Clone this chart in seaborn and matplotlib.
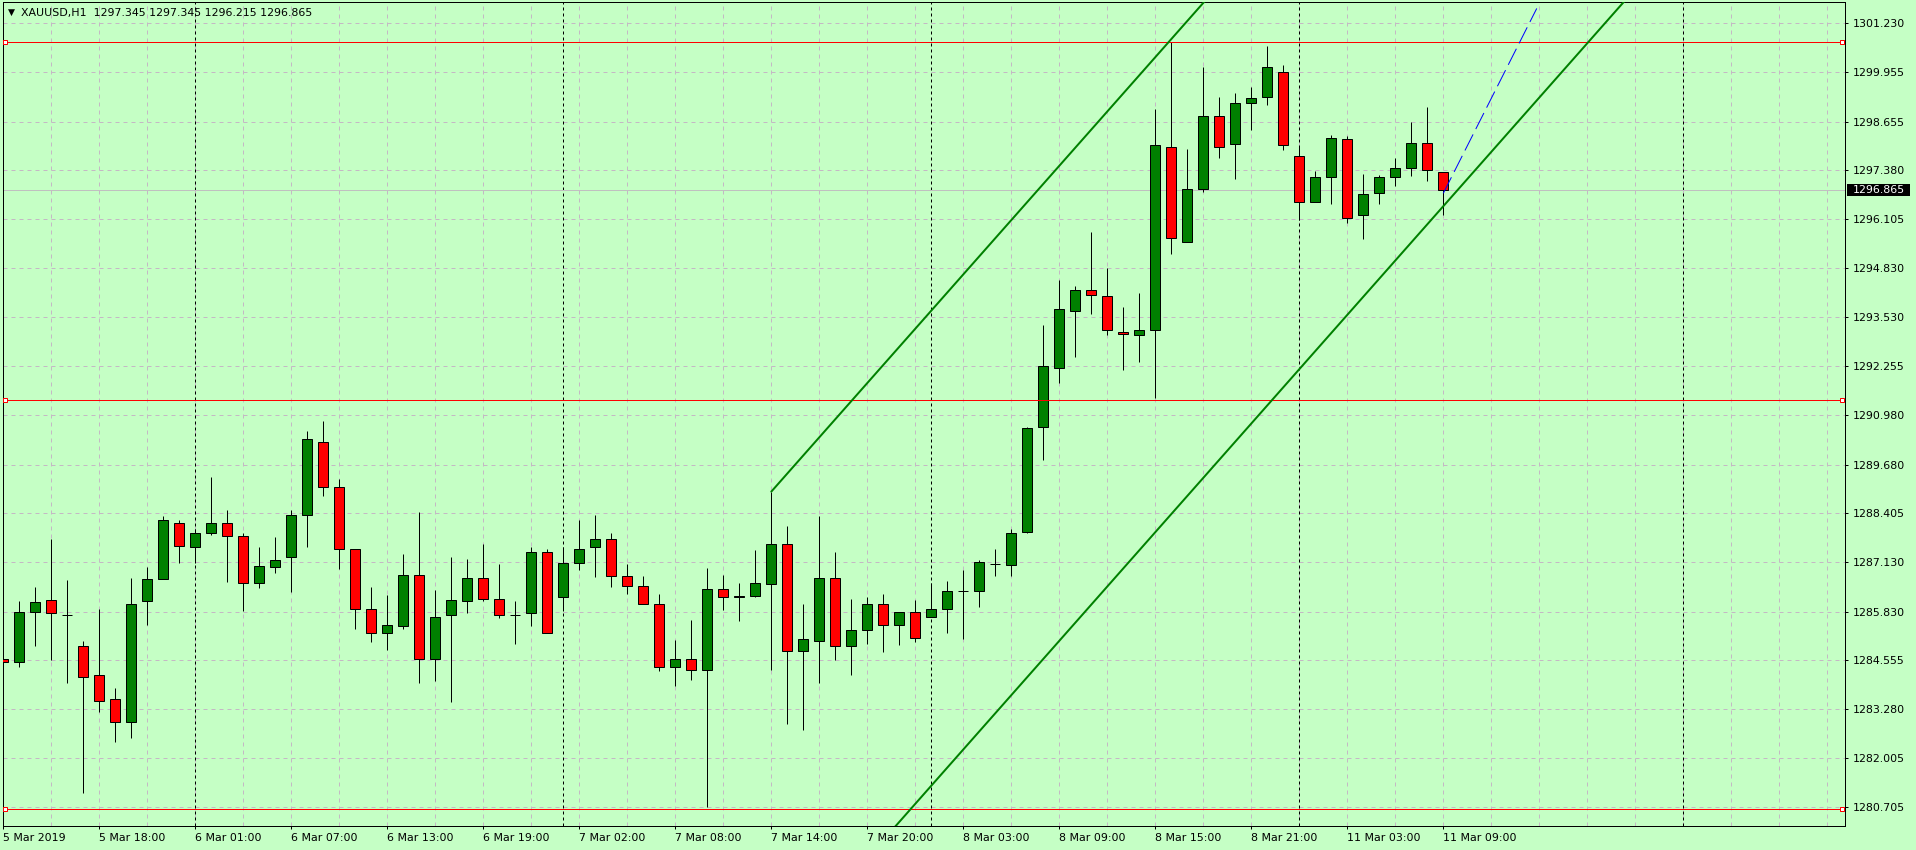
import matplotlib
matplotlib.use("Agg")
import matplotlib.pyplot as plt
import matplotlib.transforms as mtransforms
from matplotlib.patches import Rectangle
import numpy as np
import pandas as pd
import seaborn as sns

# XAUUSD H1, bar 0 = 5 Mar 2019 12:00 ... bar 90 = 11 Mar 2019 09:00
bar_open = [
    1284.60, 1284.50, 1285.81, 1286.12, 1285.75, 1284.94, 1284.16, 1283.53, 1282.95, 1286.10,
    1286.67, 1288.14, 1287.51, 1287.88, 1288.16, 1287.80, 1286.57, 1286.99, 1287.25, 1288.37,
    1290.26, 1289.08, 1287.46, 1285.89, 1285.28, 1285.44, 1286.80, 1284.60, 1285.73, 1286.10,
    1286.70, 1286.17, 1285.75, 1285.78, 1287.40, 1286.20, 1287.09, 1287.51, 1287.74, 1286.75,
    1286.51, 1286.04, 1284.37, 1284.58, 1284.30, 1286.41, 1286.20, 1286.23, 1286.56, 1287.59,
    1284.81, 1285.07, 1286.72, 1284.92, 1285.36, 1286.04, 1285.49, 1285.81, 1285.68, 1285.91,
    1286.36, 1286.36, 1287.08, 1287.06, 1287.92, 1290.66, 1292.21, 1293.70, 1294.24, 1294.10,
    1293.16, 1293.08, 1293.19, 1297.98, 1295.50, 1296.88, 1298.80, 1298.06, 1299.14, 1299.29,
    1299.95, 1297.77, 1296.54, 1297.20, 1298.19, 1296.20, 1296.78, 1297.22, 1297.43, 1298.09,
    1297.345,
]
bar_high = [
    1285.00, 1286.10, 1286.47, 1287.73, 1286.65, 1285.06, 1285.89, 1283.83, 1286.71, 1286.99,
    1288.32, 1288.22, 1287.98, 1289.35, 1288.49, 1287.90, 1287.51, 1287.77, 1288.48, 1290.55,
    1290.83, 1289.30, 1287.46, 1286.47, 1286.26, 1287.33, 1288.43, 1286.39, 1287.26, 1287.20,
    1287.60, 1287.07, 1286.10, 1287.51, 1287.46, 1287.51, 1288.22, 1288.35, 1287.88, 1287.07,
    1286.76, 1286.30, 1285.08, 1285.60, 1286.96, 1286.78, 1286.57, 1287.44, 1288.97, 1288.08,
    1286.03, 1288.32, 1287.38, 1286.15, 1286.20, 1286.30, 1285.83, 1286.12, 1286.57, 1286.62,
    1286.91, 1287.19, 1287.48, 1287.98, 1290.66, 1293.34, 1294.51, 1294.36, 1295.77, 1294.83,
    1293.80, 1294.16, 1298.99, 1300.73, 1297.94, 1300.08, 1299.30, 1299.41, 1299.56, 1300.64,
    1300.14, 1298.01, 1297.36, 1298.30, 1298.27, 1297.29, 1297.25, 1297.70, 1298.64, 1299.04,
    1297.345,
]
bar_low = [
    1283.36, 1284.38, 1284.93, 1284.56, 1283.97, 1281.09, 1283.21, 1282.42, 1282.53, 1285.48,
    1286.67, 1287.11, 1287.09, 1287.83, 1286.61, 1285.85, 1286.46, 1286.85, 1286.35, 1287.51,
    1288.86, 1286.95, 1285.38, 1285.04, 1284.82, 1285.38, 1283.97, 1284.02, 1283.47, 1285.78,
    1286.10, 1285.65, 1284.99, 1285.46, 1285.28, 1285.85, 1286.92, 1286.74, 1286.48, 1286.30,
    1286.02, 1284.28, 1283.89, 1284.04, 1280.72, 1285.87, 1285.59, 1286.20, 1284.30, 1282.89,
    1282.74, 1283.97, 1284.56, 1284.18, 1284.99, 1284.78, 1284.96, 1285.04, 1285.68, 1285.26,
    1285.12, 1285.94, 1286.77, 1286.77, 1287.90, 1289.81, 1291.81, 1292.49, 1293.62, 1293.08,
    1292.16, 1292.37, 1291.42, 1295.20, 1295.50, 1296.82, 1297.71, 1297.16, 1298.45, 1299.10,
    1297.92, 1296.07, 1296.54, 1296.51, 1295.99, 1295.59, 1296.51, 1296.98, 1297.24, 1297.09,
    1296.215,
]
bar_close = [
    1284.50, 1285.81, 1286.07, 1285.78, 1285.75, 1284.11, 1283.48, 1282.95, 1286.04, 1286.67,
    1288.22, 1287.54, 1287.88, 1288.16, 1287.80, 1286.57, 1287.01, 1287.17, 1288.37, 1290.34,
    1289.08, 1287.46, 1285.91, 1285.28, 1285.47, 1286.78, 1284.60, 1285.70, 1286.12, 1286.70,
    1286.17, 1285.75, 1285.75, 1287.40, 1285.28, 1287.09, 1287.48, 1287.74, 1286.75, 1286.51,
    1286.04, 1284.37, 1284.58, 1284.30, 1286.41, 1286.20, 1286.25, 1286.57, 1287.59, 1284.81,
    1285.10, 1286.70, 1284.94, 1285.36, 1286.04, 1285.49, 1285.81, 1285.13, 1285.91, 1286.38,
    1286.36, 1287.12, 1287.08, 1287.90, 1290.63, 1292.25, 1293.74, 1294.24, 1294.13, 1293.19,
    1293.10, 1293.19, 1298.04, 1295.60, 1296.88, 1298.80, 1297.98, 1299.14, 1299.27, 1300.10,
    1298.04, 1296.54, 1297.20, 1298.22, 1296.13, 1296.75, 1297.22, 1297.43, 1298.11, 1297.38,
    1296.865,
]

time_labels = [
    "5 Mar 2019", "5 Mar 18:00", "6 Mar 01:00", "6 Mar 07:00", "6 Mar 13:00", "6 Mar 19:00",
    "7 Mar 02:00", "7 Mar 08:00", "7 Mar 14:00", "7 Mar 20:00", "8 Mar 03:00", "8 Mar 09:00",
    "8 Mar 15:00", "8 Mar 21:00", "11 Mar 03:00", "11 Mar 09:00",
]
time_label_bars = [0, 6, 12, 18, 24, 30, 36, 42, 48, 54, 60, 66, 72, 78, 84, 90]
day_separator_bars = [12, 35, 58, 81, 105]

price_labels = [
    "1301.230", "1299.955", "1298.655", "1297.380", "1296.105", "1294.830", "1293.530",
    "1292.255", "1290.980", "1289.680", "1288.405", "1287.130", "1285.830", "1284.555",
    "1283.280", "1282.005", "1280.705",
]

# horizontal levels and drawn objects
red_levels = [1300.73, 1291.38, 1280.65]
bid_price = 1296.865
channel_top_x = [48, 76]
channel_top_y = [1288.97, 1302.24]
channel_bottom_x = [48, 104]
channel_bottom_y = [1276.53, 1303.08]
blue_x = [90.0, 95.84]
blue_y = [1296.78, 1301.62]

header = "XAUUSD,H1  1297.345 1297.345 1296.215 1296.865"

# ---- layout (pixels) ----
W, H, DPI = 1916, 850, 100
PX = 72 / DPI
FS = 11 * PX
BG = "#c5ffc5"
GRID = "#c4b8c4"
BULL = "#008000"
BEAR = "#ff0000"
AX_L, AX_R, AX_T, AX_B = 2.7, 1845, 2.3, 826
BAR0_PX, BAR_PX = 3.3, 16
YLIM = (1280.216, 1301.781)


def load_bars():
    df = pd.DataFrame({"open": bar_open, "high": bar_high, "low": bar_low, "close": bar_close})
    df["bar"] = np.arange(len(df))
    return df


def draw_candles(ax, df):
    ax.vlines(df["bar"], df["low"], df["high"], color="black", linewidth=PX, zorder=3)
    lo = np.minimum(df["open"], df["close"])
    hgt = (df["close"] - df["open"]).abs()
    colors = np.where(df["close"] > df["open"], BULL, BEAR)
    ax.bar(df["bar"], hgt, bottom=lo, width=0.64, color=colors,
           edgecolor="black", linewidth=PX, zorder=4)


def main():
    sns.set_theme(style="white", rc={"axes.facecolor": BG, "figure.facecolor": BG,
                                     "axes.edgecolor": "black", "axes.linewidth": PX})
    plt.rcParams["font.family"] = ["DejaVu Sans"]

    fig = plt.figure(figsize=(W / DPI, H / DPI), dpi=DPI)
    ax = fig.add_axes([AX_L / W, 1 - AX_B / H, (AX_R - AX_L) / W, (AX_B - AX_T) / H])

    df = load_bars()
    price_vals = [float(v) for v in price_labels]

    # grid
    for v in price_vals:
        ax.axhline(v, color=GRID, linewidth=PX, dashes=(4, 4), zorder=1)
    for b in range(0, 115, 3):
        ax.axvline(b, color=GRID, linewidth=PX, dashes=(4, 4), zorder=1)
    for b in day_separator_bars:
        ax.axvline(b, color="black", linewidth=PX, dashes=(3, 3), zorder=2)

    ax.axhline(bid_price, color="#c0c0c0", linewidth=PX, zorder=2)

    draw_candles(ax, df)

    # horizontal levels with end handles
    blend = mtransforms.blended_transform_factory(ax.transAxes, ax.transData)
    hx = [(5.3 - AX_L) / (AX_R - AX_L), (1842 - AX_L) / (AX_R - AX_L)]
    for lvl in red_levels:
        ax.axhline(lvl, color="red", linewidth=PX, zorder=5)
        ax.plot(hx, [lvl, lvl], transform=blend, marker="s", linestyle="none",
                markersize=4 * PX, markerfacecolor="white", markeredgecolor="red",
                markeredgewidth=PX, zorder=6, clip_on=False)

    # price channel
    sns.lineplot(x=channel_top_x, y=channel_top_y, ax=ax, color=BULL, linewidth=2 * PX, zorder=5)
    sns.lineplot(x=channel_bottom_x, y=channel_bottom_y, ax=ax, color=BULL, linewidth=2 * PX, zorder=5)
    ax.plot(blue_x, blue_y, color="blue", linewidth=PX, dashes=(18, 6), zorder=6)

    ax.set_xlim((AX_L - BAR0_PX) / BAR_PX, (AX_R - BAR0_PX) / BAR_PX)
    ax.set_ylim(*YLIM)

    ax.set_xticks(time_label_bars, labels=time_labels, ha="left")
    ax.tick_params(axis="x", direction="out", length=3 * PX, width=PX, pad=4 * PX,
                   labelsize=FS, colors="black", bottom=True)
    ax.yaxis.tick_right()
    ax.set_yticks(price_vals, labels=price_labels)
    ax.tick_params(axis="y", direction="out", length=3 * PX, width=PX, pad=4.7 * PX,
                   labelsize=FS, colors="black", right=True, left=False)
    ax.set_xlabel("")
    ax.set_ylabel("")
    for s in ax.spines.values():
        s.set_color("black")
        s.set_linewidth(PX)

    # current bid label on the price scale
    yblend = mtransforms.blended_transform_factory(fig.transFigure, ax.transData)
    box_h = 12 * (YLIM[1] - YLIM[0]) / (AX_B - AX_T)
    fig.add_artist(Rectangle((1847 / W, bid_price - box_h / 2), 63 / W, box_h,
                             transform=yblend, facecolor="black", edgecolor="none", zorder=7))
    fig.text(1852.7 / W, bid_price, f"{bid_price:.3f}", transform=yblend, color="white",
             fontsize=FS, ha="left", va="center", zorder=8)

    # header
    fig.text(11 / W, 1 - 12.5 / H, "\u25bc", fontsize=6.5 * PX * 1.4, ha="center", va="center", color="black")
    fig.text(20.7 / W, 1 - 12.7 / H, header, fontsize=FS, ha="left", va="center", color="black")

    fig.savefig("out.png", dpi=DPI, facecolor=BG)


if __name__ == "__main__":
    main()
